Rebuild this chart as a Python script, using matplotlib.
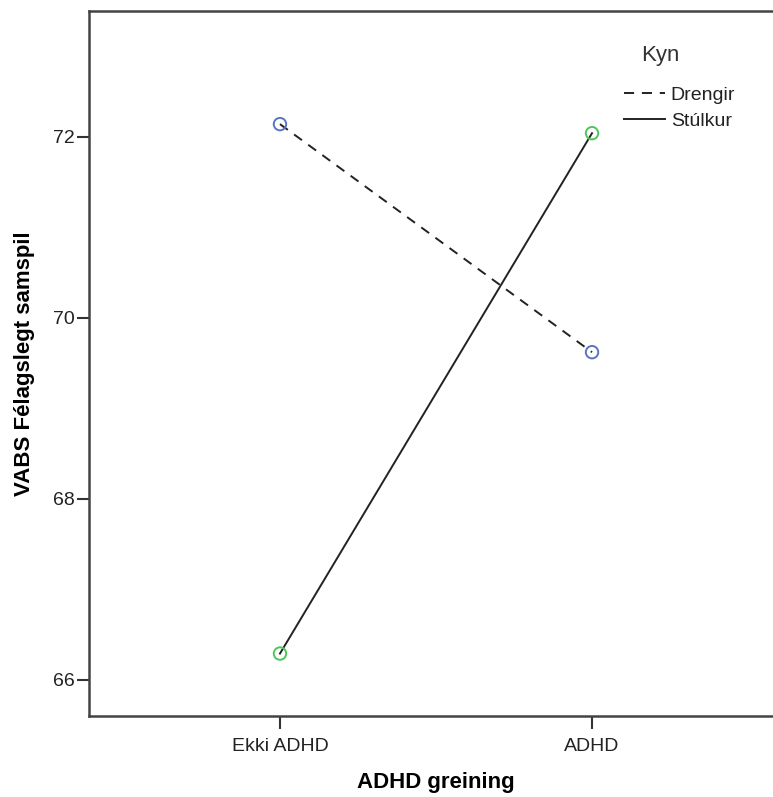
import matplotlib
matplotlib.use("Agg")
import matplotlib.pyplot as plt
from matplotlib.lines import Line2D

plt.rcParams['font.family'] = ['Liberation Sans', 'DejaVu Sans']

categories = ["Ekki ADHD", "ADHD"]
drengir = [72.14, 69.62]
stulkur = [66.29, 72.04]
y_ticks = [66, 68, 70, 72]
series_labels = ["Drengir", "Stúlkur"]
legend_title = "Kyn"

fig = plt.figure(figsize=(7.73, 7.97), dpi=100)
ax = fig.add_axes([89/773, 81/797, (783-89)/773, (716-11)/797])

x = list(range(len(categories)))
dash = (0, (5, 4))
ax.plot(x, drengir, color='#222222', lw=1.4, ls=dash, zorder=2)
ax.plot(x, stulkur, color='#222222', lw=1.4, ls='-', zorder=2)
ax.scatter(x, drengir, s=80, facecolors='none', edgecolors='#5a74c4', linewidths=1.4, zorder=3)
ax.scatter(x, stulkur, s=80, facecolors='none', edgecolors='#4cc759', linewidths=1.4, zorder=3)

ax.set_xlim(-0.612, 1.612)
ax.set_ylim(65.60, 73.39)
ax.set_xticks(x)
ax.set_xticklabels(categories)
ax.set_yticks(y_ticks)
ax.tick_params(axis='both', direction='out', length=9, width=1.5, color='#333333',
               labelsize=14, labelcolor='#222222')
ax.tick_params(axis='x', pad=7)
ax.tick_params(axis='y', pad=1)
for side in ['left', 'bottom', 'top', 'right']:
    ax.spines[side].set_linewidth(1.8)
    ax.spines[side].set_color('#444444')

ax.set_xlabel("ADHD greining", fontsize=16, fontweight='bold', labelpad=12)
ax.set_ylabel("VABS Félagslegt samspil", fontsize=16, fontweight='bold', labelpad=13)

handles = [Line2D([0], [0], color='#222222', lw=1.4, ls=(0, (5.2, 4.0))),
           Line2D([0], [0], color='#222222', lw=1.4, ls='-')]
leg = fig.legend(handles, series_labels, frameon=False,
                 loc='upper left', bbox_to_anchor=(624/773, 1 - 86/797),
                 fontsize=14, handlelength=2.1, handletextpad=0.3,
                 labelspacing=0.45, borderaxespad=0, borderpad=0)
for t in leg.get_texts():
    t.set_color('#222222')
fig.text(660/773, 1 - 55/797, legend_title, ha='center', va='center',
         fontsize=16, color='#333333')

fig.savefig("out.png", dpi=100)
